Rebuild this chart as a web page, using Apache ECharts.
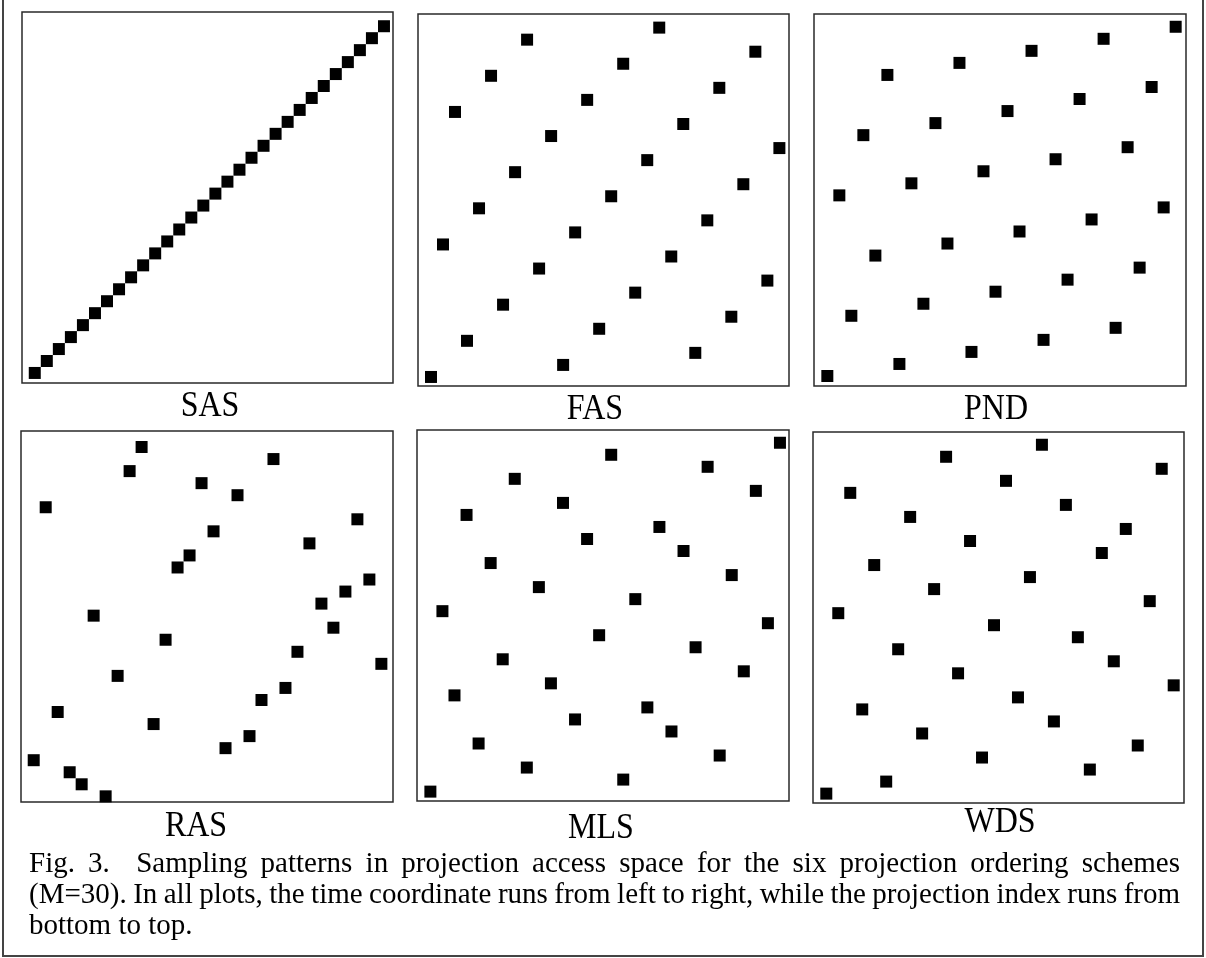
<!DOCTYPE html>
<html lang="en">
<head>
    <meta charset="UTF-8">
    <title>Sampling patterns</title>
    <style>
        html, body { margin: 0; padding: 0; background: #fff; }
        #demo { width: 1206px; height: 958px; }
    </style>
</head>
<body>
<div id="demo"></div>
<script src="https://cdn.jsdelivr.net/npm/echarts@6/dist/echarts.min.js"></script>
<script type="text/javascript">

    // time slot (left -> right) and projection index (bottom -> top), M = 30
    var timeSlots = [0,1,2,3,4,5,6,7,8,9,10,11,12,13,14,15,16,17,18,19,20,21,22,23,24,25,26,27,28,29];
    var sasProj = [0,1,2,3,4,5,6,7,8,9,10,11,12,13,14,15,16,17,18,19,20,21,22,23,24,25,26,27,28,29];
    var fasProj = [0,11,22,3,14,25,6,17,28,9,20,1,12,23,4,15,26,7,18,29,10,21,2,13,24,5,16,27,8,19];
    var pndProj = [0,15,5,20,10,25,1,16,6,21,11,26,2,17,7,22,12,27,3,18,8,23,13,28,4,19,9,24,14,29];
    var rasProj = [3,24,7,2,1,15,0,10,27,29,6,13,19,20,26,22,4,25,5,8,28,9,12,21,16,14,17,23,18,11];
    var mlsProj = [0,15,8,23,4,19,11,26,2,17,9,24,6,21,13,28,1,16,7,22,5,20,12,27,3,18,10,25,14,29];
    var wdsProj = [0,15,25,7,19,1,12,23,5,17,28,10,21,3,14,26,8,18,29,6,24,13,2,20,11,22,4,16,27,9];

    var schemeNames = ['SAS', 'FAS', 'PND', 'RAS', 'MLS', 'WDS'];
    var schemeProj = [sasProj, fasProj, pndProj, rasProj, mlsProj, wdsProj];

    var captionLines = [
        'Fig. 3.  Sampling patterns in projection access space for the six projection ordering schemes',
        '(M=30). In all plots, the time coordinate runs from left to right, while the projection index runs from',
        'bottom to top.'
    ];

    // layout: plot box [left, top, width, height], axis ranges, label centre/baseline
    var boxes = [
        [22, 12, 371, 371], [418, 14, 371, 372], [814, 14, 372, 372],
        [21, 431, 372, 371], [417, 430, 372, 371], [813, 432, 371, 371]
    ];
    var xRanges = [[-1.06, 29.75], [-1.08, 29.8], [-1.11, 29.86], [-1.06, 29.97], [-1.11, 29.75], [-1.11, 29.86]];
    var yRanges = [[-0.84, 30.19], [-0.75, 30.13], [-0.83, 30.06], [-0.47, 30.33], [-0.78, 30.06], [-0.78, 30.06]];
    var labelPos = [[210, 417], [595, 420], [996, 420], [196, 837], [601, 839], [1000, 833]];

    var serif = '"Liberation Serif", "Times New Roman", serif';
    var labelSize = 32;
    var capSize = 29;

    var ctx = document.createElement('canvas').getContext('2d');
    ctx.font = capSize + 'px ' + serif;

    // place words of one caption line, justified between x0 and x1
    function captionWords(line, x0, x1, y, justify) {
        var tokens = line.split(' ');
        var wordW = 0;
        for (var i = 0; i < tokens.length; i++) {
            wordW += ctx.measureText(tokens[i]).width;
        }
        var gap = justify ? (x1 - x0 - wordW) / (tokens.length - 1) : ctx.measureText(' ').width;
        var out = [], x = x0;
        for (var j = 0; j < tokens.length; j++) {
            if (tokens[j] !== '') {
                out.push({
                    type: 'text', silent: true,
                    style: {
                        text: tokens[j], x: x, y: y,
                        fontSize: capSize, fontFamily: serif, fill: '#000',
                        align: 'left', verticalAlign: 'bottom'
                    }
                });
                x += ctx.measureText(tokens[j]).width;
            }
            x += gap;
        }
        return out;
    }

    function Einit() {
        var myChart = echarts.init(document.getElementById('demo'), null, {renderer: 'canvas'});
        var grids = [], xAxes = [], yAxes = [], series = [], graphics = [];

        for (var i = 0; i < schemeNames.length; i++) {
            var b = boxes[i];
            grids.push({
                left: b[0], top: b[1], width: b[2], height: b[3],
                show: true, backgroundColor: '#fff', borderColor: '#2a2a2a', borderWidth: 1.5
            });
            xAxes.push({type: 'value', gridIndex: i, min: xRanges[i][0], max: xRanges[i][1], show: false});
            yAxes.push({type: 'value', gridIndex: i, min: yRanges[i][0], max: yRanges[i][1], show: false});
            var pts = [];
            for (var k = 0; k < timeSlots.length; k++) {
                pts.push([timeSlots[k], schemeProj[i][k]]);
            }
            series.push({
                name: schemeNames[i], type: 'scatter',
                xAxisIndex: i, yAxisIndex: i,
                symbol: 'rect', symbolSize: 12,
                itemStyle: {color: '#000', opacity: 1},
                silent: true,
                data: pts
            });
            // scheme name under each plot, slightly tall like the print
            graphics.push({
                type: 'text', silent: true,
                x: labelPos[i][0], y: labelPos[i][1] + 7,
                scaleY: 1.1,
                style: {
                    text: schemeNames[i], x: 0, y: 0,
                    fontSize: labelSize, fontFamily: serif, fill: '#000',
                    align: 'center', verticalAlign: 'bottom'
                }
            });
        }

        // outer frame (left, bottom, right)
        graphics.push({
            type: 'polyline', silent: true,
            shape: {points: [[3, 0], [3, 956], [1203, 956], [1203, 0]]},
            style: {stroke: '#444', lineWidth: 2, fill: null}
        });

        var baselines = [873, 904, 935];
        for (var n = 0; n < captionLines.length; n++) {
            graphics = graphics.concat(
                captionWords(captionLines[n], 29, 1180, baselines[n] + 6, n < captionLines.length - 1)
            );
        }

        var option = {
            animation: false,
            backgroundColor: '#fff',
            tooltip: {show: false},
            grid: grids,
            xAxis: xAxes,
            yAxis: yAxes,
            series: series,
            graphic: graphics
        };
        myChart.setOption(option);
    }

    Einit();
</script>
</body>
</html>
